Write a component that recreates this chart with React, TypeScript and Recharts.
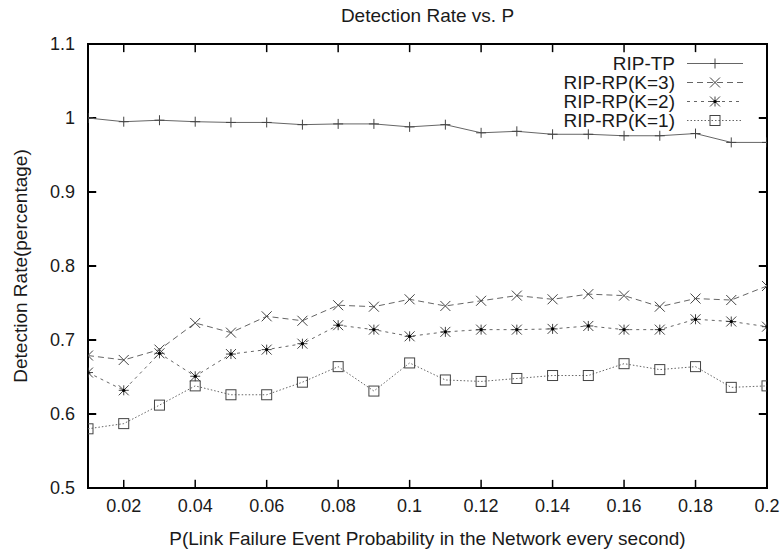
import React from 'react';
import { LineChart, Line, XAxis, YAxis, ReferenceArea, ReferenceLine, Label } from 'recharts';

// P values (link failure probability per second)
const pValues = [0.01, 0.02, 0.03, 0.04, 0.05, 0.06, 0.07, 0.08, 0.09, 0.1,
  0.11, 0.12, 0.13, 0.14, 0.15, 0.16, 0.17, 0.18, 0.19, 0.2];

const ripTP = [1.0, 0.995, 0.997, 0.995, 0.994, 0.994, 0.991, 0.992, 0.992, 0.988,
  0.991, 0.98, 0.982, 0.978, 0.978, 0.976, 0.976, 0.979, 0.967, 0.967];
const ripK3 = [0.679, 0.673, 0.687, 0.723, 0.71, 0.732, 0.726, 0.747, 0.745, 0.755,
  0.746, 0.753, 0.76, 0.755, 0.762, 0.76, 0.745, 0.756, 0.754, 0.773];
const ripK2 = [0.656, 0.632, 0.682, 0.651, 0.681, 0.687, 0.695, 0.72, 0.714, 0.705,
  0.711, 0.714, 0.714, 0.715, 0.719, 0.714, 0.714, 0.728, 0.725, 0.718];
const ripK1 = [0.58, 0.587, 0.612, 0.638, 0.626, 0.626, 0.643, 0.664, 0.631, 0.669,
  0.646, 0.644, 0.648, 0.652, 0.652, 0.668, 0.66, 0.664, 0.636, 0.638];

const xTicks = [0.02, 0.04, 0.06, 0.08, 0.1, 0.12, 0.14, 0.16, 0.18, 0.2];
const yTicks = [0.5, 0.6, 0.7, 0.8, 0.9, 1.0, 1.1];

const data = pValues.map((p, i) => ({
  p,
  tp: ripTP[i],
  k3: ripK3[i],
  k2: ripK2[i],
  k1: ripK1[i],
}));

const FONT = '"Liberation Sans", Arial, Helvetica, sans-serif';
const TEXT = '#1a1a1a';
const LINE = '#666';
const MARK = '#444';

const X_MIN = 0.01;
const X_MAX = 0.2;
const Y_MIN = 0.5;
const Y_MAX = 1.1;
// inward tick length in data units (~8px each way)
const TICK_DY = 0.011;
const TICK_DX = 0.0023;

type MarkerKind = 'plus' | 'cross' | 'star' | 'square';

const Marker = ({ kind, cx, cy }: { kind: MarkerKind; cx: number; cy: number }) => {
  const r = 5;
  const plus = (
    <>
      <line x1={cx - r} y1={cy} x2={cx + r} y2={cy} />
      <line x1={cx} y1={cy - r} x2={cx} y2={cy + r} />
    </>
  );
  const cross = (
    <>
      <line x1={cx - r} y1={cy - r} x2={cx + r} y2={cy + r} />
      <line x1={cx - r} y1={cy + r} x2={cx + r} y2={cy - r} />
    </>
  );
  return (
    <g stroke={MARK} strokeWidth={1} fill="none">
      {kind === 'plus' && plus}
      {kind === 'cross' && cross}
      {kind === 'star' && (
        <>
          {plus}
          {cross}
          <circle cx={cx} cy={cy} r={1.6} fill="#000" stroke="none" />
        </>
      )}
      {kind === 'square' && <rect x={cx - r} y={cy - r} width={2 * r} height={2 * r} />}
    </g>
  );
};

const makeDot = (kind: MarkerKind) => (props: any) => {
  const { cx, cy, index } = props;
  return <Marker key={`${kind}-${index}`} kind={kind} cx={cx} cy={cy} />;
};

const series = [
  { key: 'tp', name: 'RIP-TP', kind: 'plus' as MarkerKind, dash: undefined },
  { key: 'k3', name: 'RIP-RP(K=3)', kind: 'cross' as MarkerKind, dash: '6 4' },
  { key: 'k2', name: 'RIP-RP(K=2)', kind: 'star' as MarkerKind, dash: '3 4' },
  { key: 'k1', name: 'RIP-RP(K=1)', kind: 'square' as MarkerKind, dash: '1.5 2' },
];

const fmt = (v: number) => String(+v.toFixed(2));

const KeyBox = () => (
  <div
    style={{
      position: 'absolute',
      top: 54,
      right: 783 - 743,
      fontFamily: FONT,
      fontSize: 19,
      color: TEXT,
    }}
  >
    {series.map((s) => (
      <div key={s.key} style={{ display: 'flex', alignItems: 'center', justifyContent: 'flex-end', height: 19 }}>
        <span style={{ lineHeight: '19px' }}>{s.name}</span>
        <svg width={56} height={19} style={{ marginLeft: 12 }}>
          <line x1={0} y1={9.5} x2={56} y2={9.5} stroke={LINE} strokeWidth={1} strokeDasharray={s.dash} />
          <Marker kind={s.kind} cx={28} cy={9.5} />
        </svg>
      </div>
    ))}
  </div>
);

export default function App() {
  return (
    <div style={{ position: 'absolute', left: 0, top: 0, width: 783, height: 552, background: '#fff' }}>
      <div
        style={{
          position: 'absolute',
          left: 88,
          width: 679,
          top: 5,
          textAlign: 'center',
          fontFamily: FONT,
          fontSize: 19,
          color: TEXT,
        }}
      >
        Detection Rate vs. P
      </div>
      <LineChart
        width={783}
        height={552}
        data={data}
        margin={{ top: 44, right: 16, bottom: 0, left: 0 }}
      >
        <XAxis
          dataKey="p"
          type="number"
          domain={[X_MIN, X_MAX]}
          ticks={xTicks}
          tickFormatter={fmt}
          allowDataOverflow
          axisLine={false}
          tickLine={false}
          tickSize={0}
          tickMargin={11}
          height={64}
          tick={{ fill: TEXT, fontSize: 18, fontFamily: FONT }}
        >
          <Label
            value="P(Link Failure Event Probability in the Network every second)"
            position="insideBottom"
            offset={7}
            fill={TEXT}
            fontSize={19}
            fontFamily={FONT}
          />
        </XAxis>
        <YAxis
          type="number"
          domain={[Y_MIN, Y_MAX]}
          ticks={yTicks}
          tickFormatter={fmt}
          allowDataOverflow
          axisLine={false}
          tickLine={false}
          tickSize={0}
          tickMargin={13}
          width={88}
          tick={{ fill: TEXT, fontSize: 18, fontFamily: FONT }}
        >
          <Label
            value="Detection Rate(percentage)"
            angle={-90}
            position="insideLeft"
            offset={20}
            fill={TEXT}
            fontSize={19}
            fontFamily={FONT}
            style={{ textAnchor: 'middle' }}
          />
        </YAxis>

        {xTicks.map((t) => (
          <ReferenceLine
            key={`xb-${t}`}
            segment={[{ x: t, y: Y_MIN }, { x: t, y: Y_MIN + TICK_DY }]}
            stroke="#000"
            strokeWidth={1.5}
          />
        ))}
        {xTicks.map((t) => (
          <ReferenceLine
            key={`xt-${t}`}
            segment={[{ x: t, y: Y_MAX }, { x: t, y: Y_MAX - TICK_DY }]}
            stroke="#000"
            strokeWidth={1.5}
          />
        ))}
        {yTicks.map((t) => (
          <ReferenceLine
            key={`yl-${t}`}
            segment={[{ x: X_MIN, y: t }, { x: X_MIN + TICK_DX, y: t }]}
            stroke="#000"
            strokeWidth={2}
          />
        ))}
        {yTicks.map((t) => (
          <ReferenceLine
            key={`yr-${t}`}
            segment={[{ x: X_MAX, y: t }, { x: X_MAX - TICK_DX, y: t }]}
            stroke="#000"
            strokeWidth={2}
          />
        ))}

        {series.map((s) => (
          <Line
            key={s.key}
            dataKey={s.key}
            name={s.name}
            type="linear"
            stroke={LINE}
            strokeWidth={1}
            strokeDasharray={s.dash}
            dot={makeDot(s.kind)}
            activeDot={false}
            isAnimationActive={false}
          />
        ))}

        <ReferenceArea
          x1={X_MIN}
          x2={X_MAX}
          y1={Y_MIN}
          y2={Y_MAX}
          fill="none"
          fillOpacity={0}
          stroke="#000"
          strokeWidth={2}
          ifOverflow="visible"
        />
      </LineChart>
      <KeyBox />
    </div>
  );
}
